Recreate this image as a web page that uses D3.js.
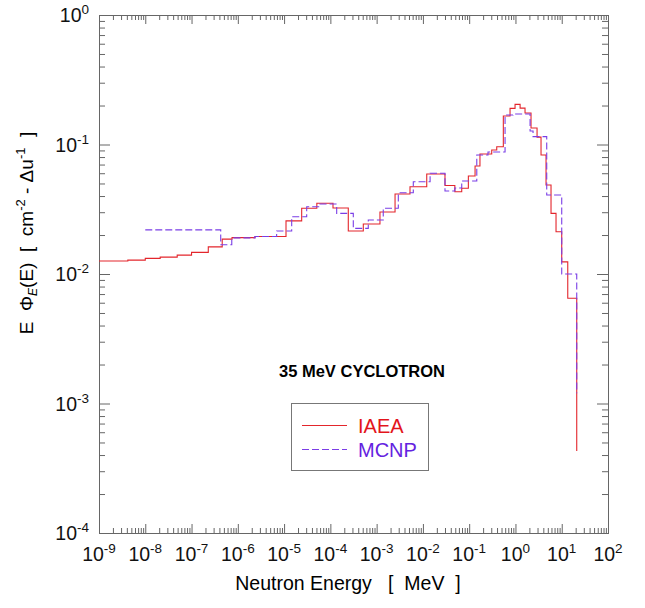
<!DOCTYPE html>
<html>
<head>
<meta charset="utf-8">
<script src="https://cdn.jsdelivr.net/npm/d3@7"></script>
<style>
  body { margin: 0; background: #fff; }
  text { font-family: "Liberation Sans", Arial, sans-serif; }
</style>
</head>
<body>
<div id="chart"></div>
<script>
// DATA ------------------------
// bin edges (MeV) and E*Phi values
const iaeaEdges = [1e-9, 4.2e-9, 1e-8, 2.1e-8, 4.9e-8, 1e-7, 2.3e-7, 4.6e-7, 7.5e-7, 2.35e-6,
  1.1e-5, 2.4e-5, 5.1e-5, 1.14e-4, 2.44e-4, 5.15e-4, 1.18e-3, 2.5e-3, 5.26e-3, 1.21e-2,
  3.0e-2, 4.9e-2, 6.9e-2, 9.6e-2, 0.134, 0.171, 0.307, 0.394, 0.547, 0.764,
  0.98, 1.26, 1.61, 2.17, 2.93, 3.57, 4.58, 5.87, 7.53, 10.0, 13.5, 21.1]
const iaeaFlux = [0.0126, 0.0128, 0.0132, 0.0135, 0.0140, 0.0147, 0.0162, 0.0186, 0.0191, 0.0195,
  0.0257, 0.0322, 0.0352, 0.0323, 0.0215, 0.0243, 0.0301, 0.0415, 0.0472, 0.0592,
  0.0482, 0.0432, 0.0459, 0.0571, 0.0682, 0.0845, 0.0907, 0.0962, 0.166, 0.190,
  0.204, 0.191, 0.175, 0.134, 0.114, 0.083, 0.0487, 0.0294, 0.0212, 0.0124, 0.00649]
const iaeaTail = 4.3e-4

const mcnpEdges = [1e-8, 4.27e-7, 7.4e-7, 2.35e-6, 6.9e-6, 1.46e-5, 3.08e-5, 5.97e-5, 1.37e-4,
  3.13e-4, 6.6e-4, 1.39e-3, 2.94e-3, 6.2e-3, 1.43e-2, 3.0e-2, 4.9e-2, 6.9e-2, 0.146,
  0.255, 0.596, 0.887, 2.07, 2.40, 4.74, 10.0, 21.1]
const mcnpFlux = [0.0219, 0.0168, 0.0190, 0.0195, 0.0215, 0.0277, 0.0331, 0.0347, 0.0294,
  0.0225, 0.0261, 0.0322, 0.0424, 0.0516, 0.0600, 0.0437, 0.0461, 0.0523, 0.0830,
  0.0875, 0.169, 0.172, 0.127, 0.115, 0.0407, 0.0100]
const mcnpTail = 1.2e-3

const xExponents = [-9, -8, -7, -6, -5, -4, -3, -2, -1, 0, 1, 2]
const yExponents = [-4, -3, -2, -1, 0]
const legendNames = ["IAEA", "MCNP"]

// LAYOUT ----------------------
const WIDTH = 645, HEIGHT = 608
const LEFT = 99, RIGHT = 608, TOP = 15, BOTTOM = 533
const AXIS_COLOR = "#666"
const RED = "#e3262c", PURPLE = "#7a3ee6"

const svg = d3.select("#chart").append("svg")
  .attr("width", WIDTH).attr("height", HEIGHT)

// SCALES ----------------------
const x = d3.scaleLog().domain([1e-9, 1e2]).range([LEFT, RIGHT])
const y = d3.scaleLog().domain([1e-4, 1]).range([BOTTOM, TOP])

const minorOf = exps => exps.slice(0, -1).flatMap(e => d3.range(2, 10).map(m => m * Math.pow(10, e)))
const xMajor = xExponents.map(e => Math.pow(10, e))
const yMajor = yExponents.map(e => Math.pow(10, e))
const xMinor = minorOf(xExponents)
const yMinor = minorOf(yExponents)

// TICKS (inward, all four sides) --
const tickAxis = (axisFn, scale, values, size, transform) => {
  const g = svg.append("g").attr("transform", transform)
  g.call(axisFn(scale).tickValues(values).tickSize(size).tickFormat(""))
  g.select(".domain").remove()
  g.selectAll("line").attr("stroke", AXIS_COLOR)
}
tickAxis(d3.axisBottom, x, xMinor, -5, `translate(0,${BOTTOM})`)
tickAxis(d3.axisBottom, x, xMajor, -9, `translate(0,${BOTTOM})`)
tickAxis(d3.axisTop, x, xMinor, -5, `translate(0,${TOP})`)
tickAxis(d3.axisTop, x, xMajor, -9, `translate(0,${TOP})`)
tickAxis(d3.axisLeft, y, yMinor, -6, `translate(${LEFT},0)`)
tickAxis(d3.axisLeft, y, yMajor, -11, `translate(${LEFT},0)`)
tickAxis(d3.axisRight, y, yMinor, -6, `translate(${RIGHT},0)`)
tickAxis(d3.axisRight, y, yMajor, -11, `translate(${RIGHT},0)`)

svg.append("rect")
  .attr("x", LEFT + 0.5).attr("y", TOP + 0.5)
  .attr("width", RIGHT - LEFT).attr("height", BOTTOM - TOP)
  .attr("fill", "none").attr("stroke", AXIS_COLOR)

// TICK LABELS -----------------
const powerLabel = (sel, e) => {
  sel.append("tspan").text("10")
  sel.append("tspan").attr("dy", -8).attr("font-size", 13.5).text(e)
}
xExponents.forEach(e => {
  svg.append("text")
    .attr("x", x(Math.pow(10, e))).attr("y", 561)
    .attr("text-anchor", "middle").attr("font-size", 19.5).attr("fill", "#111")
    .call(powerLabel, e)
})
yExponents.forEach(e => {
  svg.append("text")
    .attr("x", 89).attr("y", y(Math.pow(10, e)) + 7)
    .attr("text-anchor", "end").attr("font-size", 19.5).attr("fill", "#111")
    .call(powerLabel, e)
})

// CURVES ----------------------
const stepPoints = (edges, flux, tail) => {
  const pts = []
  flux.forEach((v, i) => { pts.push([edges[i], v], [edges[i + 1], v]) })
  pts.push([edges[edges.length - 1], tail])
  return pts
}
const line = d3.line().x(d => x(d[0])).y(d => y(d[1]))

svg.append("path")
  .attr("d", line(stepPoints(iaeaEdges, iaeaFlux, iaeaTail)))
  .attr("fill", "none").attr("stroke", RED).attr("stroke-width", 1.1)

svg.append("path")
  .attr("d", line(stepPoints(mcnpEdges, mcnpFlux, mcnpTail)))
  .attr("fill", "none").attr("stroke", PURPLE).attr("stroke-width", 1.1)
  .attr("stroke-dasharray", "7,3")

// ANNOTATIONS -----------------
svg.append("text")
  .attr("x", 362).attr("y", 377)
  .attr("text-anchor", "middle").attr("font-size", 16.5).attr("font-weight", "bold")
  .text("35 MeV CYCLOTRON")

const legend = svg.append("g")
legend.append("rect")
  .attr("x", 291.5).attr("y", 403.5).attr("width", 137).attr("height", 67)
  .attr("fill", "#fff").attr("stroke", "#777")
legendNames.forEach((name, i) => {
  const ly = 425.5 + i * 24
  legend.append("line")
    .attr("x1", 302).attr("x2", 347).attr("y1", ly).attr("y2", ly)
    .attr("stroke", i ? PURPLE : RED).attr("stroke-width", 1.1)
    .attr("stroke-dasharray", i ? "7,3" : null)
  legend.append("text")
    .attr("x", 358).attr("y", ly + 7)
    .attr("font-size", 20).attr("fill", i ? "#6422e0" : "#e3141b")
    .text(name)
})

// AXIS TITLES -----------------
svg.append("text")
  .attr("x", 348).attr("y", 590)
  .attr("text-anchor", "middle").attr("font-size", 19.5)
  .style("white-space", "pre")
  .text("Neutron Energy   [  MeV  ]")

const yTitle = svg.append("text")
  .attr("transform", "translate(33,233) rotate(-90)")
  .attr("text-anchor", "middle").attr("font-size", 19)
  .style("white-space", "pre")
yTitle.append("tspan").text("E  \u03A6")
yTitle.append("tspan").attr("dy", 4).attr("font-size", 12).attr("font-style", "italic").text("E")
yTitle.append("tspan").attr("dy", -4).text("(E)  [  cm")
yTitle.append("tspan").attr("dy", -8).attr("font-size", 13).text("-2")
yTitle.append("tspan").attr("dy", 8).text(" - \u0394u")
yTitle.append("tspan").attr("dy", -8).attr("font-size", 13).text("-1")
yTitle.append("tspan").attr("dy", 8).text("  ]")
</script>
</body>
</html>
